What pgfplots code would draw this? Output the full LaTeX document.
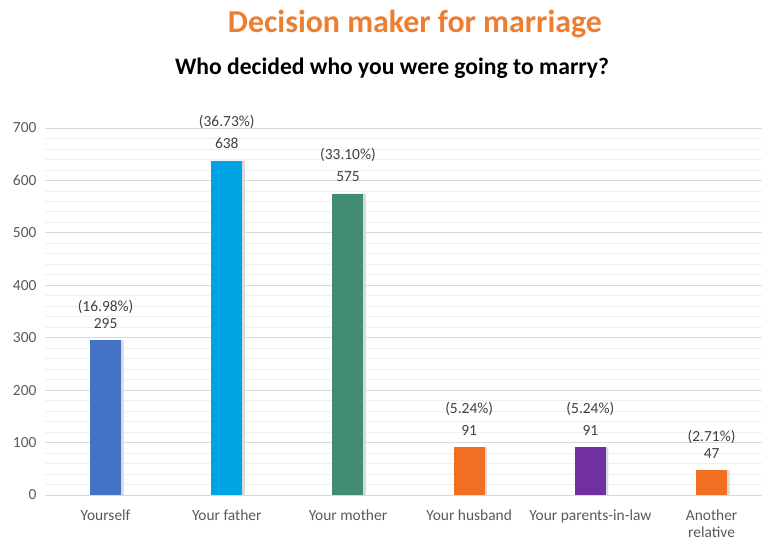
\documentclass[border=0pt]{standalone}
\usepackage{fontspec}
\setmainfont{Carlito}
\usepackage{pgfplots}
\pgfplotsset{compat=1.18}
\usepackage{pgfplotstable}

\pgfplotstableread{
x y pct
0 295 16.98
1 638 36.73
2 575 33.10
3 91 5.24
4 91 5.24
5 47 2.71
}\data

\definecolor{cYou}{HTML}{4472C4}
\definecolor{cFather}{HTML}{00A3E4}
\definecolor{cMother}{HTML}{428C74}
\definecolor{cHusband}{HTML}{F26E22}
\definecolor{cParents}{HTML}{7030A0}
\definecolor{cRel}{HTML}{F26E22}
\definecolor{titleorange}{HTML}{ED7D31}
\definecolor{gridmaj}{HTML}{D9D9D9}
\definecolor{gridmin}{HTML}{EFEFEF}
\definecolor{labgray}{HTML}{595959}
\definecolor{dgray}{HTML}{404040}

\pgfkeys{/pgf/number format/assume math mode=true}
\pgfplotsset{
  mybar/.style={ybar, bar width=31bp, bar shift=0pt, draw=none, fill=#1,
    point meta=explicit symbolic,
    visualization depends on={rawy\as\yval},
    nodes near coords={(\pgfplotspointmeta\%)\\\pgfmathprintnumber[fixed,precision=0]{\yval}},
    every node near coord/.append style={font=\fontsize{15.5}{22}\selectfont, text=dgray, align=center, anchor=south, inner sep=0pt, yshift=12bp}},
  tight/.style={every node near coord/.append style={font=\fontsize{15.5}{17}\selectfont}},
}

\begin{document}
\begin{tikzpicture}
\path[use as bounding box] (-45bp,-45bp) rectangle (717bp,495bp);
\begin{axis}[
  at={(0,0)}, anchor=south west,
  scale only axis, width=717bp, height=367bp,
  xmin=-0.5, xmax=5.416, ymin=0, ymax=700,
  ytick={0,100,...,700}, minor y tick num=4,
  xtick={0,...,5},
  xticklabels={Yourself,Your father,Your mother,Your husband,Your parents-in-law,{Another\\relative}},
  axis x line*=bottom, axis y line*=left,
  x axis line style={draw=none}, y axis line style={draw=none},
  major tick length=0pt, minor tick length=0pt,
  ymajorgrids, yminorgrids,
  major grid style={color=gridmaj, line width=0.8bp},
  minor grid style={color=gridmin, line width=0.8bp},
  tick label style={font=\fontsize{15.5}{17.5}\selectfont, text=labgray},
  xticklabel style={align=center, yshift=-11bp},
  yticklabel style={xshift=-5bp},
  clip=false,
]
\addplot[ybar, bar width=31bp, bar shift=2.5bp, fill=black!15, draw=none, forget plot] table[x=x,y=y] {\data};
\addplot[mybar=cYou, tight, restrict x to domain=-0.1:0.1] table[x=x,y=y,meta=pct] {\data};
\addplot[mybar=cFather, restrict x to domain=0.9:1.1] table[x=x,y=y,meta=pct] {\data};
\addplot[mybar=cMother, restrict x to domain=1.9:2.1] table[x=x,y=y,meta=pct] {\data};
\addplot[mybar=cHusband, restrict x to domain=2.9:3.1] table[x=x,y=y,meta=pct] {\data};
\addplot[mybar=cParents, restrict x to domain=3.9:4.1] table[x=x,y=y,meta=pct] {\data};
\addplot[mybar=cRel, tight, restrict x to domain=4.9:5.1] table[x=x,y=y,meta=pct] {\data};
\end{axis}
\node[anchor=base, font=\bfseries\fontsize{32}{38}\selectfont, text=titleorange] at (370bp,462bp) {Decision maker for marriage};
\node[anchor=base, font=\bfseries\fontsize{23.7}{28}\selectfont] at (347bp,420bp) {Who decided who you were going to marry?};
\end{tikzpicture}
\end{document}
